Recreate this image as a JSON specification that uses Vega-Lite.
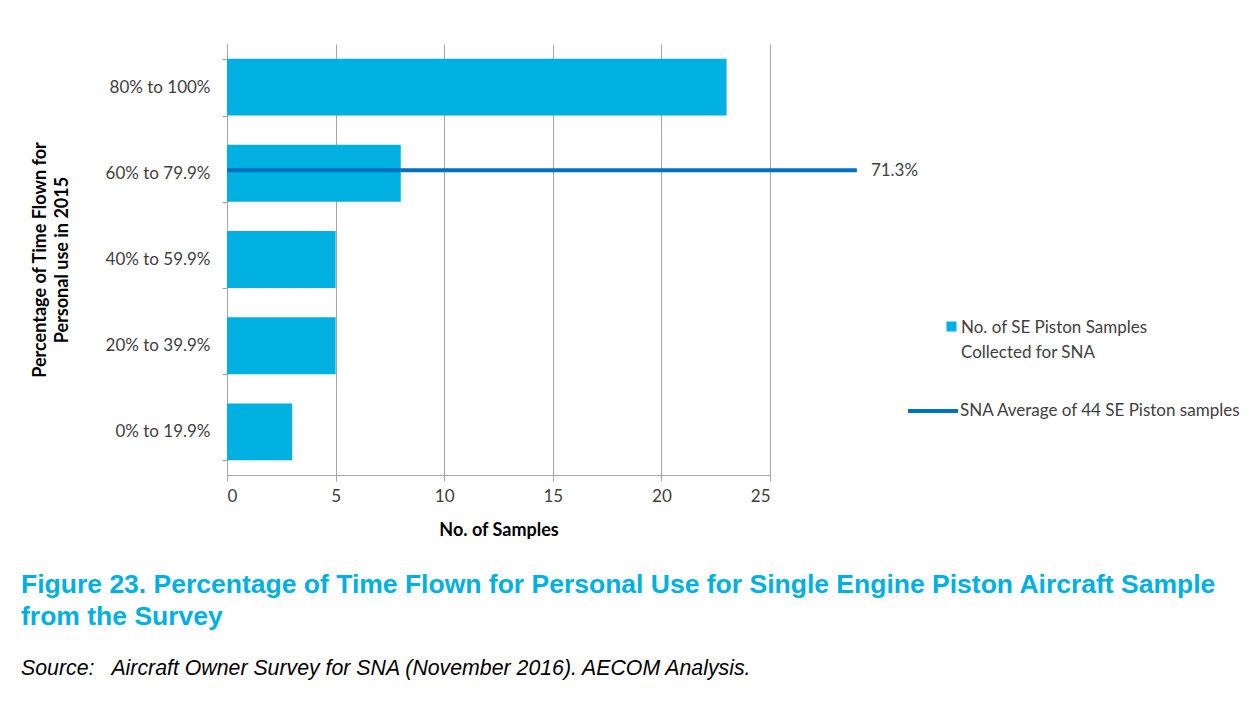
{
  "$schema": "https://vega.github.io/schema/vega-lite/v6.json",
  "width": 543,
  "height": 431,
  "autosize": {"type": "none"},
  "padding": {"left": 227, "top": 44, "right": 490, "bottom": 229},
  "background": "white",
  "datasets": {
    "bars": [
      {"category": "80% to 100%", "samples": 23, "bar_series": "No. of SE Piston Samples|Collected for SNA"},
      {"category": "60% to 79.9%", "samples": 8, "bar_series": "No. of SE Piston Samples|Collected for SNA"},
      {"category": "40% to 59.9%", "samples": 5, "bar_series": "No. of SE Piston Samples|Collected for SNA"},
      {"category": "20% to 39.9%", "samples": 5, "bar_series": "No. of SE Piston Samples|Collected for SNA"},
      {"category": "0% to 19.9%", "samples": 3, "bar_series": "No. of SE Piston Samples|Collected for SNA"}
    ],
    "avg": [
      {"category": "60% to 79.9%", "start": 0, "samples": 29, "label": "71.3%", "line_series": "SNA Average of 44 SE Piston samples"}
    ]
  },
  "title": {
    "text": ["Figure 23. Percentage of Time Flown for Personal Use for Single Engine Piston Aircraft Sample", "from the Survey"],
    "subtitle": "Source:\u00a0\u00a0 Aircraft Owner Survey for SNA (November 2016). AECOM Analysis.",
    "orient": "bottom",
    "anchor": "start",
    "frame": "bounds",
    "font": "Liberation Sans",
    "fontSize": 26.5,
    "fontWeight": "bold",
    "color": "#00b0e0",
    "lineHeight": 32,
    "subtitleFont": "Liberation Sans",
    "subtitleFontSize": 21.3,
    "subtitleFontStyle": "italic",
    "subtitleColor": "#000000",
    "subtitlePadding": 27,
    "offset": 33,
    "dx": -10
  },
  "config": {
    "font": "Lato",
    "view": {"stroke": null}
  },
  "layer": [
    {
      "data": {"name": "bars"},
      "mark": {"type": "bar", "color": "#00b0e0"},
      "encoding": {
        "y": {
          "field": "category",
          "type": "nominal",
          "sort": null,
          "scale": {"domain": ["80% to 100%", "60% to 79.9%", "40% to 59.9%", "20% to 39.9%", "0% to 19.9%"], "paddingInner": 0.34, "paddingOuter": 0.17},
          "axis": {
            "title": ["Percentage of Time Flown for", "Personal use in 2015"],
            "titleFont": "Lato",
            "titleFontSize": 18,
            "titleFontWeight": "bold",
            "titleColor": "#000000",
            "titleLineHeight": 22,
            "titlePadding": 34,
            "labelFont": "Lato",
            "labelFontSize": 17,
            "labelColor": "#404040",
            "labelPadding": 12,
            "tickBand": "extent",
            "tickSize": 5,
            "tickColor": "#a6a6a6",
            "domainColor": "#a6a6a6",
            "grid": false
          }
        },
        "x": {
          "field": "samples",
          "type": "quantitative",
          "scale": {"domain": [0, 25], "nice": false},
          "axis": {
            "title": "No. of Samples",
            "values": [0, 5, 10, 15, 20, 25],
            "grid": true,
            "gridColor": "#a6a6a6",
            "domainColor": "#a6a6a6",
            "tickColor": "#a6a6a6",
            "tickSize": 6,
            "labelFont": "Lato",
            "labelFontSize": 17,
            "labelColor": "#404040",
            "labelPadding": 7,
            "titleFont": "Lato",
            "titleFontSize": 18,
            "titleFontWeight": "bold",
            "titleColor": "#000000",
            "titlePadding": 17
          }
        },
        "fill": {
          "field": "bar_series",
          "type": "nominal",
          "scale": {"range": ["#00b0e0"]},
          "legend": {
            "orient": "none",
            "legendX": 716,
            "legendY": 274,
            "title": null,
            "padding": 0,
            "symbolType": "square",
            "symbolSize": 100,
            "symbolStrokeWidth": 0,
            "labelFont": "Lato",
            "labelFontSize": 17,
            "labelColor": "#404040",
            "labelOffset": 1,
            "labelLimit": 400,
            "labelBaseline": "alphabetic",
            "labelExpr": "split(datum.label, '|')",
            "encode": {"labels": {"update": {"lineHeight": {"value": 25}, "dy": {"value": 6}}}}
          }
        }
      }
    },
    {
      "data": {"name": "avg"},
      "mark": {"type": "rule", "strokeWidth": 4, "yOffset": -3},
      "encoding": {
        "y": {"field": "category", "type": "nominal", "sort": null},
        "x": {"field": "start", "type": "quantitative"},
        "x2": {"field": "samples"},
        "stroke": {
          "field": "line_series",
          "type": "nominal",
          "scale": {"range": ["#0070c0"]},
          "legend": {
            "orient": "none",
            "legendX": 679,
            "legendY": 340,
            "title": null,
            "padding": 0,
            "symbolType": "stroke",
            "symbolSize": 2500,
            "symbolStrokeWidth": 4,
            "labelFont": "Lato",
            "labelFontSize": 17,
            "labelColor": "#404040",
            "labelOffset": 0,
            "labelLimit": 400
          }
        }
      }
    },
    {
      "data": {"name": "avg"},
      "mark": {"type": "text", "align": "left", "dx": 14, "dy": -2, "font": "Lato", "fontSize": 17, "color": "#404040"},
      "encoding": {
        "y": {"field": "category", "type": "nominal", "sort": null},
        "x": {"field": "samples", "type": "quantitative"},
        "text": {"field": "label"}
      }
    }
  ]
}
